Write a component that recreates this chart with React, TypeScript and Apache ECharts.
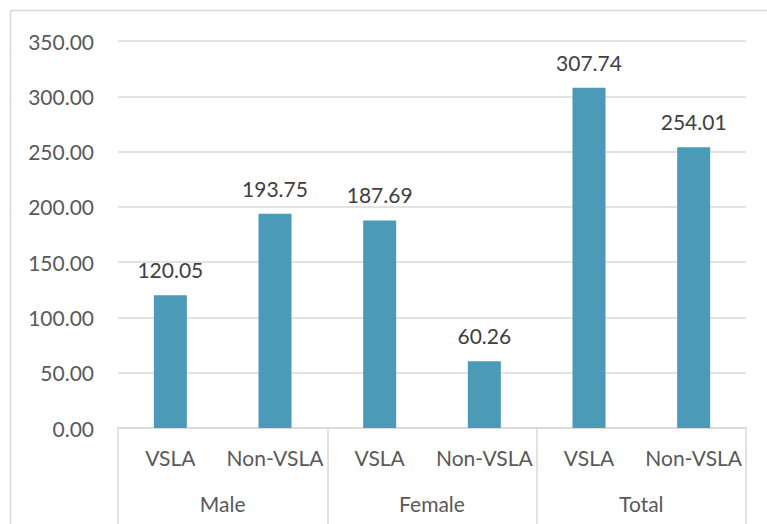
import React, { useEffect, useRef } from "react";
import * as echarts from "echarts";

const subCategories = ["VSLA", "Non-VSLA", "VSLA", "Non-VSLA", "VSLA", "Non-VSLA"];
const groupCategories = ["Male", "Female", "Total"];
const values = [120.05, 193.75, 187.69, 60.26, 307.74, 254.01];

const FONT = "Lato, 'Open Sans', sans-serif";

export default function App() {
  const ref = useRef<HTMLDivElement>(null);
  useEffect(() => {
    if (!ref.current) return;
    const chart = echarts.init(ref.current, undefined, { renderer: "svg" });
    chart.setOption({
      animation: false,
      backgroundColor: "#ffffff",
      graphic: [
        {
          type: "rect",
          shape: { x: 10.5, y: 10.5, width: 900, height: 700 },
          style: { fill: "none", stroke: "#D9D9D9", lineWidth: 1.5 },
          silent: true,
          z: -1,
        },
      ],
      grid: { left: 118, right: 21, top: 41, bottom: 96, containLabel: false },
      xAxis: [
        {
          type: "category",
          data: subCategories,
          position: "bottom",
          axisLine: { show: true, lineStyle: { color: "#D9D9D9", width: 1.5 } },
          axisTick: {
            show: true,
            interval: (i: number) => i % 2 === 0,
            length: 100,
            lineStyle: { color: "#D9D9D9", width: 1.5 },
          },
          axisLabel: {
            interval: 0,
            margin: 19,
            color: "#595959",
            fontSize: 21,
            fontFamily: FONT,
          },
          splitLine: { show: false },
        },
        {
          type: "category",
          data: groupCategories,
          position: "bottom",
          gridIndex: 0,
          axisLine: { show: false },
          axisTick: { show: false },
          axisLabel: {
            interval: 0,
            margin: 65,
            color: "#595959",
            fontSize: 21,
            fontFamily: FONT,
          },
          splitLine: { show: false },
        },
      ],
      yAxis: {
        type: "value",
        min: 0,
        max: 350,
        interval: 50,
        axisLine: { show: false },
        axisTick: { show: false },
        axisLabel: {
          margin: 24,
          color: "#595959",
          fontSize: 21,
          fontFamily: FONT,
          formatter: (v: number) => v.toFixed(2),
        },
        splitLine: { show: true, lineStyle: { color: "#D9D9D9", width: 1.5 } },
      },
      series: [
        {
          type: "bar",
          xAxisIndex: 0,
          data: values,
          barWidth: 33,
          itemStyle: { color: "#4A9AB8" },
          label: {
            show: true,
            position: "top",
            distance: 15,
            color: "#404040",
            fontSize: 21,
            fontFamily: FONT,
            formatter: (p: any) => Number(p.value).toFixed(2),
          },
        },
      ],
    });
    return () => chart.dispose();
  }, []);
  return (
    <div
      ref={ref}
      style={{ position: "fixed", left: 0, top: 0, width: 767, height: 524 }}
    />
  );
}
